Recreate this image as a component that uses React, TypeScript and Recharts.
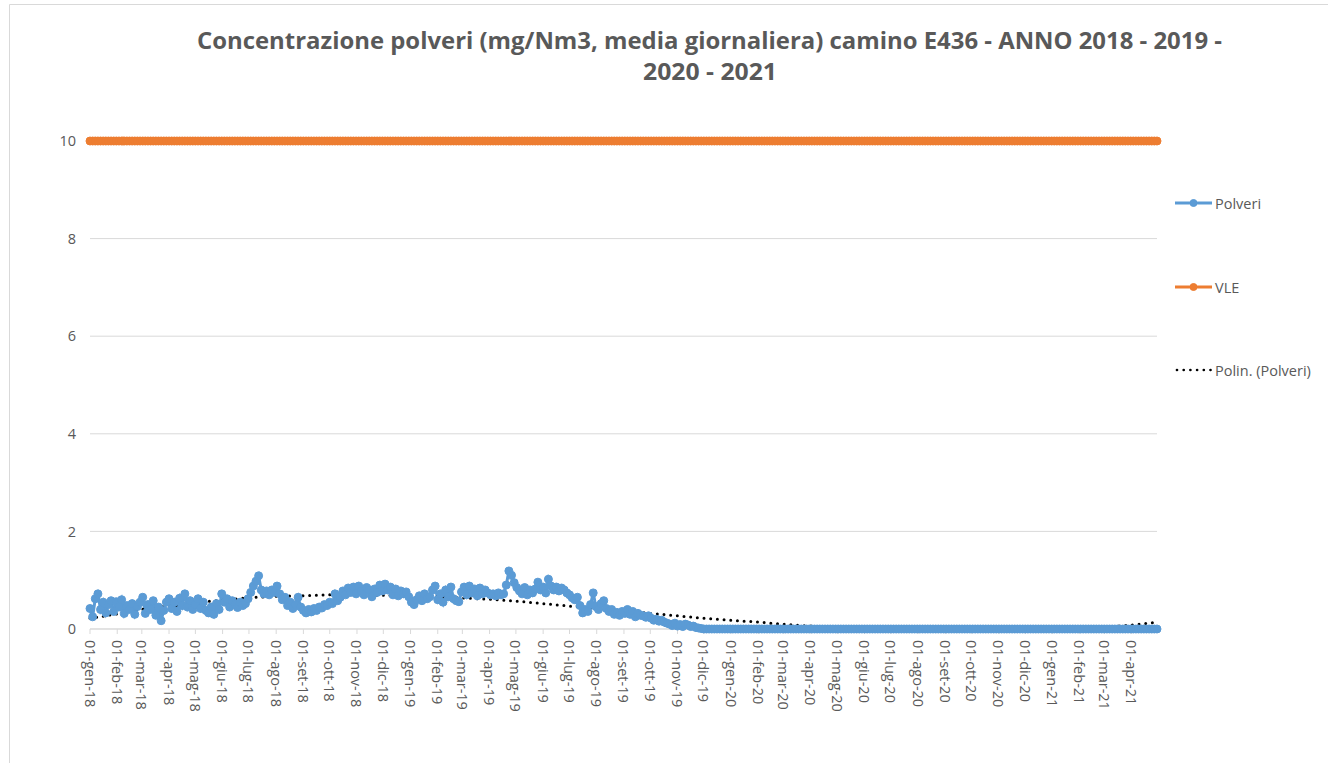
import React from "react";
import { LineChart, Line, XAxis, YAxis, CartesianGrid } from "recharts";

// ---------- DATA ----------
// Daily series sampled every 3 days, starting 01-gen-18
const startYear = 2018;
const stepDays = 3;
const lastDay = 1215; // 30-apr-21 (days since 01-gen-18)

const monthLabels = [
  "01-gen-18", "01-feb-18", "01-mar-18", "01-apr-18", "01-mag-18", "01-giu-18",
  "01-lug-18", "01-ago-18", "01-set-18", "01-ott-18", "01-nov-18", "01-dic-18",
  "01-gen-19", "01-feb-19", "01-mar-19", "01-apr-19", "01-mag-19", "01-giu-19",
  "01-lug-19", "01-ago-19", "01-set-19", "01-ott-19", "01-nov-19", "01-dic-19",
  "01-gen-20", "01-feb-20", "01-mar-20", "01-apr-20", "01-mag-20", "01-giu-20",
  "01-lug-20", "01-ago-20", "01-set-20", "01-ott-20", "01-nov-20", "01-dic-20",
  "01-gen-21", "01-feb-21", "01-mar-21", "01-apr-21",
];

const polveri = [
  // gen-18
  0.42, 0.25, 0.62, 0.72, 0.40, 0.55, 0.33, 0.50, 0.58, 0.36,
  // feb-18
  0.56, 0.45, 0.60, 0.32, 0.48, 0.40, 0.52, 0.30, 0.46, 0.55,
  // mar-18
  0.65, 0.32, 0.50, 0.40, 0.58, 0.28, 0.45, 0.17, 0.38, 0.55,
  // apr-18
  0.62, 0.42, 0.55, 0.36, 0.63, 0.48, 0.72, 0.45, 0.58, 0.40,
  // mag-18
  0.50, 0.62, 0.42, 0.55, 0.38, 0.33, 0.45, 0.30, 0.52, 0.40,
  // giu-18
  0.72, 0.55, 0.62, 0.45, 0.58, 0.50, 0.44, 0.55, 0.48, 0.52,
  // lug-18
  0.62, 0.75, 0.88, 0.98, 1.09, 0.80, 0.72, 0.78, 0.70, 0.80,
  // ago-18
  0.75, 0.88, 0.72, 0.60, 0.65, 0.48, 0.55, 0.42, 0.50, 0.65,
  // set-18
  0.45, 0.38, 0.33, 0.40, 0.35, 0.42, 0.38, 0.45, 0.43, 0.50,
  // ott-18
  0.48, 0.55, 0.52, 0.72, 0.58, 0.65, 0.78, 0.70, 0.84, 0.75,
  // nov-18
  0.86, 0.72, 0.88, 0.78, 0.70, 0.85, 0.80, 0.66, 0.82, 0.75,
  // dic-18
  0.90, 0.78, 0.92, 0.80, 0.86, 0.70, 0.82, 0.68, 0.78, 0.72,
  // gen-19
  0.76, 0.66, 0.55, 0.50, 0.60, 0.68, 0.58, 0.72, 0.62, 0.66,
  // feb-19
  0.80, 0.88, 0.60, 0.72, 0.55, 0.80, 0.66, 0.86, 0.62, 0.58,
  // mar-19
  0.56, 0.76, 0.86, 0.70, 0.88, 0.74, 0.82, 0.68, 0.84, 0.72,
  // apr-19
  0.80, 0.74, 0.70, 0.72, 0.68, 0.74, 0.70, 0.72, 0.90, 1.19,
  // mag-19
  1.10, 0.95, 0.85, 0.78, 0.72, 0.85, 0.70, 0.80, 0.74, 0.82,
  // giu-19
  0.96, 0.80, 0.86, 0.74, 1.02, 0.88, 0.80, 0.86, 0.78, 0.84,
  // lug-19
  0.80, 0.74, 0.70, 0.64, 0.60, 0.65, 0.48, 0.33, 0.40, 0.36,
  // ago-19
  0.50, 0.74, 0.46, 0.40, 0.52, 0.58, 0.42, 0.36, 0.40, 0.30,
  // set-19
  0.34, 0.28, 0.36, 0.32, 0.40, 0.30, 0.36, 0.25, 0.32, 0.28,
  // ott-19
  0.27, 0.24, 0.27, 0.22, 0.18, 0.20, 0.16, 0.18, 0.14, 0.12,
  // nov-19
  0.10, 0.07, 0.12, 0.06, 0.09, 0.05, 0.10, 0.08, 0.05, 0.06,
  0.03, 0.02, 0.01,
  // dic-19 .. apr-21 (all zero)
  0, 0, 0, 0, 0, 0, 0, 0, 0, 0, 0, 0, 0, 0, 0, 0, 0, 0, 0, 0,
  0, 0, 0, 0, 0, 0, 0, 0, 0, 0, 0, 0, 0, 0, 0, 0, 0, 0, 0, 0,
  0, 0, 0, 0, 0, 0, 0, 0, 0, 0, 0, 0, 0, 0, 0, 0, 0, 0, 0, 0,
  0, 0, 0, 0, 0, 0, 0, 0, 0, 0, 0, 0, 0, 0, 0, 0, 0, 0, 0, 0,
  0, 0, 0, 0, 0, 0, 0, 0, 0, 0, 0, 0, 0, 0, 0, 0, 0, 0, 0, 0,
  0, 0, 0, 0, 0, 0, 0, 0, 0, 0, 0, 0, 0, 0, 0, 0, 0, 0, 0, 0,
  0, 0, 0, 0, 0, 0, 0, 0, 0, 0, 0, 0, 0, 0, 0, 0, 0, 0, 0, 0,
  0, 0, 0, 0, 0, 0, 0, 0, 0, 0, 0, 0, 0, 0, 0, 0, 0, 0, 0, 0,
  0, 0, 0, 0, 0, 0, 0, 0, 0, 0, 0, 0, 0,
];

const vleLimit = 10;

// Polynomial trendline values read at each month start, plus the last day
const trendValues = [
  0.22, 0.31, 0.40, 0.47, 0.54, 0.59, 0.64, 0.67, 0.68, 0.70, 0.70, 0.69,
  0.67, 0.66, 0.635, 0.61, 0.57, 0.52, 0.47, 0.42, 0.37, 0.32, 0.27, 0.22,
  0.18, 0.14, 0.10, 0.06, 0.04, 0.025, 0.015, 0.01, 0.005, 0.0, 0.0, 0.005,
  0.01, 0.027, 0.045, 0.08, 0.14,
];

const yTicks = [0, 2, 4, 6, 8, 10];

// ---------- HELPERS ----------
const DAY_MS = 86400000;
const origin = Date.UTC(startYear, 0, 1);
const monthDay = (k: number) =>
  Math.round((Date.UTC(startYear + Math.floor(k / 12), k % 12, 1) - origin) / DAY_MS);
const tickDays = monthLabels.map((_, k) => monthDay(k));
const labelByDay: Record<number, string> = {};
tickDays.forEach((d, k) => (labelByDay[d] = monthLabels[k]));

const BLUE = "#5B9BD5";
const ORANGE = "#ED7D31";
const TEXT = "#595959";
const GRID = "#D9D9D9";
const FONT = "'Open Sans', sans-serif";

const RotTick = (props: any) => {
  const { x, y, payload } = props;
  return (
    <text
      x={x}
      y={y}
      transform={`rotate(90, ${x}, ${y})`}
      textAnchor="start"
      dominantBaseline="central"
      fill={TEXT}
      fontSize={14.5}
      fontFamily={FONT}
    >
      {labelByDay[payload.value]}
    </text>
  );
};

export default function App() {
  const W = 1328;
  const H = 763;
  const rows = polveri.map((v, i) => ({ day: i * stepDays, polveri: v, vle: vleLimit }));
  const trendRows = trendValues.map((v, k) => ({
    day: k < monthLabels.length ? monthDay(k) : lastDay,
    trend: v,
  }));

  return (
    <div
      style={{
        position: "absolute",
        left: 0,
        top: 0,
        width: W,
        height: H,
        background: "#fff",
        fontFamily: FONT,
        overflow: "hidden",
      }}
    >
      <LineChart
        width={W}
        height={H}
        data={rows}
        margin={{ top: 141, right: 171, bottom: 54, left: 0 }}
        style={{ fontFamily: FONT }}
      >
        <CartesianGrid horizontal vertical={false} stroke={GRID} strokeWidth={1} />
        <XAxis
          dataKey="day"
          type="number"
          domain={[0, lastDay]}
          ticks={tickDays}
          interval={0}
          height={80}
          tickSize={5}
          tickMargin={6}
          stroke={GRID}
          tick={<RotTick />}
        />
        <YAxis
          type="number"
          domain={[0, 10]}
          ticks={yTicks}
          width={90}
          axisLine={false}
          tickLine={false}
          tickSize={0}
          tickMargin={14}
          tick={{ fill: TEXT, fontSize: 14.5, fontFamily: FONT }}
        />
        <Line
          dataKey="polveri"
          stroke={BLUE}
          strokeWidth={3}
          dot={{ r: 4, fill: BLUE, stroke: BLUE, strokeWidth: 1 }}
          isAnimationActive={false}
        />
        <Line
          dataKey="vle"
          stroke={ORANGE}
          strokeWidth={3}
          dot={{ r: 4, fill: ORANGE, stroke: ORANGE, strokeWidth: 1 }}
          isAnimationActive={false}
        />
        <Line
          data={trendRows}
          dataKey="trend"
          type="monotone"
          stroke="#000"
          strokeWidth={3}
          strokeDasharray="0 6.7"
          strokeLinecap="round"
          dot={false}
          isAnimationActive={false}
        />
      </LineChart>

      <svg
        width={W}
        height={H}
        style={{ position: "absolute", left: 0, top: 0, pointerEvents: "none" }}
      >
        <path d={`M9.5 ${H} V4.5 H${W}`} fill="none" stroke={GRID} strokeWidth={1} />
        <text
          x={197}
          y={49}
          fontFamily={FONT}
          fontWeight={700}
          fontSize={23}
          fill={TEXT}
          textLength={1025}
          lengthAdjust="spacingAndGlyphs"
        >
          Concentrazione polveri (mg/Nm3, media giornaliera) camino E436 - ANNO 2018 - 2019 -
        </text>
        <text
          x={643}
          y={80}
          fontFamily={FONT}
          fontWeight={700}
          fontSize={23}
          fill={TEXT}
          textLength={134}
          lengthAdjust="spacingAndGlyphs"
        >
          2020 - 2021
        </text>

        {/* Legend */}
        <line x1={1175} x2={1212} y1={203} y2={203} stroke={BLUE} strokeWidth={3} />
        <circle cx={1193.5} cy={203} r={3.5} fill={BLUE} stroke={BLUE} />
        <text x={1215} y={203} dominantBaseline="central" fontFamily={FONT} fontSize={14.5} fill={TEXT}>
          Polveri
        </text>

        <line x1={1175} x2={1212} y1={287} y2={287} stroke={ORANGE} strokeWidth={3} />
        <circle cx={1193.5} cy={287} r={3.5} fill={ORANGE} stroke={ORANGE} />
        <text x={1215} y={287} dominantBaseline="central" fontFamily={FONT} fontSize={14.5} fill={TEXT}>
          VLE
        </text>

        <line
          x1={1177}
          x2={1211}
          y1={370}
          y2={370}
          stroke="#000"
          strokeWidth={2.7}
          strokeDasharray="0 6.7"
          strokeLinecap="round"
        />
        <text x={1215} y={370} dominantBaseline="central" fontFamily={FONT} fontSize={14.5} fill={TEXT}>
          Polin. (Polveri)
        </text>
      </svg>
    </div>
  );
}
